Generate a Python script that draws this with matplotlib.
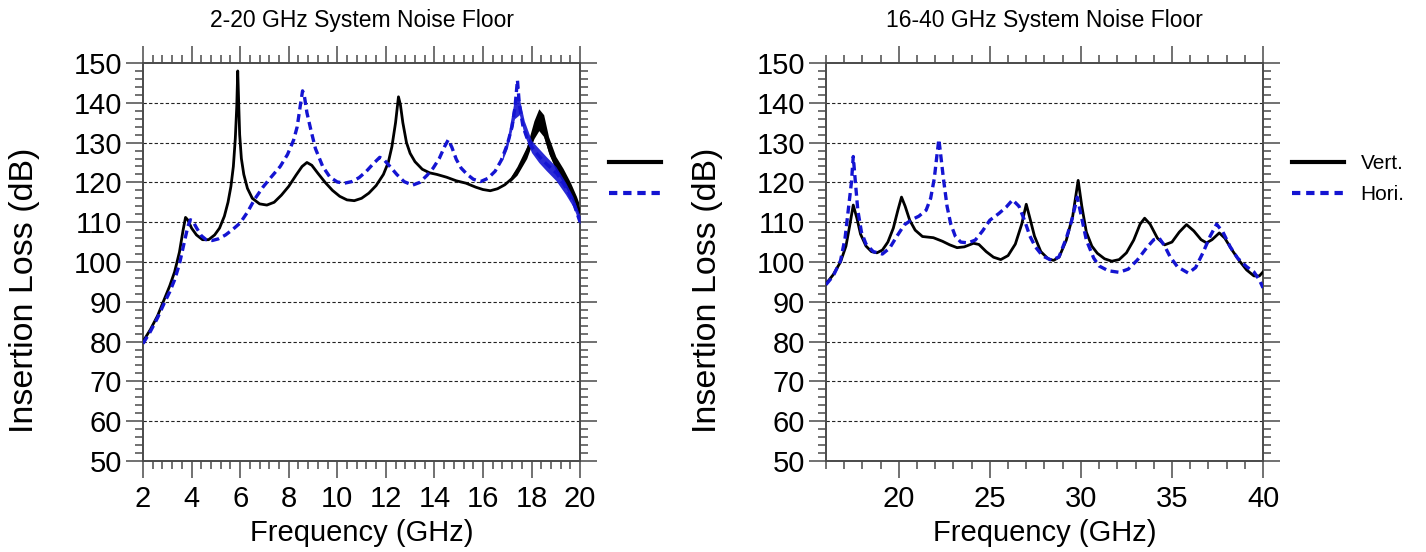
import numpy as np
import matplotlib.pyplot as plt
from matplotlib.ticker import MultipleLocator
from matplotlib.lines import Line2D

# ---- 2-20 GHz panel ----
lo_freq_v = [2.0, 2.3, 2.6, 2.9, 3.1, 3.3, 3.5, 3.65, 3.75, 3.85, 4.0, 4.2, 4.45, 4.7, 4.95,
             5.15, 5.35, 5.5, 5.62, 5.72, 5.8, 5.86, 5.9, 5.94, 5.98, 6.05, 6.15, 6.3, 6.5,
             6.8, 7.1, 7.4, 7.7, 8.0, 8.3, 8.55, 8.75, 8.95, 9.2, 9.5, 9.8, 10.1, 10.4, 10.7,
             11.0, 11.3, 11.6, 11.9, 12.1, 12.25, 12.4, 12.52, 12.6, 12.7, 12.85, 13.0, 13.2,
             13.5, 13.8, 14.1, 14.5, 14.9, 15.3, 15.7, 16.0, 16.3, 16.6, 16.9, 17.2, 17.5,
             17.75, 17.95, 18.15, 18.3, 18.45, 18.6, 18.8, 19.0, 19.2, 19.45, 19.7, 19.85, 20.0]
lo_vert = [80, 83, 86.5, 91, 94, 97.5, 102.5, 108, 111.2, 110.5, 108.5, 106.8, 105.6, 105.6, 106.8,
           108.5, 111.5, 115, 119, 124, 131, 139, 148, 140, 132, 126, 122, 118.5, 116,
           114.6, 114.3, 115, 116.8, 119, 121.8, 124, 125, 124.3, 122.3, 120, 118, 116.5, 115.6, 115.4,
           116, 117.3, 119.2, 122, 125, 129, 135, 141.5, 139.5, 135, 130, 127.3, 125.2,
           123.3, 122.4, 122, 121.3, 120.4, 119.8, 118.8, 118.2, 117.9, 118.4, 119.4, 121, 123.5,
           126.5, 130, 133.5, 135.5, 134.5, 131, 127, 124.5, 122.5, 119.5, 116.5, 114.8, 112.5]

lo_freq_h = [2.0, 2.3, 2.6, 2.9, 3.1, 3.3, 3.5, 3.7, 3.85, 3.95, 4.05, 4.2, 4.4, 4.6, 4.85,
             5.1, 5.4, 5.7, 6.0, 6.3, 6.6, 6.95, 7.3, 7.65, 7.95, 8.2, 8.35, 8.47, 8.57, 8.65,
             8.75, 8.9, 9.1, 9.4, 9.7, 10.0, 10.3, 10.6, 10.9, 11.2, 11.5, 11.75, 11.95, 12.2,
             12.45, 12.75, 13.1, 13.4, 13.7, 13.95, 14.2, 14.42, 14.57, 14.72, 14.9, 15.1, 15.35,
             15.6, 15.9, 16.2, 16.5, 16.75, 17.0, 17.2, 17.32, 17.42, 17.5, 17.65, 17.85, 18.0,
             18.25, 18.5, 18.8, 19.05, 19.3, 19.5, 19.75, 20.0]
lo_hori = [79.5, 82.5, 86, 90, 92.5, 95.5, 99.5, 105, 109, 110.6, 110.3, 108.6, 106.6, 105.6, 105.4,
           105.8, 106.8, 108.2, 109.8, 112.5, 115.8, 118.9, 121.5, 124, 127, 130.6, 134, 139, 143, 141.5,
           137.5, 133.5, 128.5, 124, 121.3, 120.1, 119.8, 120.2, 121.2, 122.8, 124.8, 126.3, 125.5, 123.8,
           122, 120.2, 119.3, 120, 121.8, 123.6, 126, 129, 130.7, 128.8, 125.8, 123.6, 122,
           120.8, 120.2, 121, 122.8, 125.5, 129.5, 134, 139, 145.7, 139.5, 134, 130.5, 129,
           127, 125.3, 123.6, 122.2, 119.8, 117.8, 114.5, 110]

# noisy band at the high end (lower / upper edge of the fuzz)
lo_band_v_f = [17.1, 17.4, 17.8, 18.1, 18.3, 18.5, 18.7, 19.0, 19.3, 19.6, 19.85, 20.0]
lo_band_v_lo = [120, 121.8, 126, 131, 133, 131.5, 127.5, 123, 120, 116.5, 113, 111]
lo_band_v_hi = [121, 124, 129, 135.5, 138.5, 137, 131.5, 126.5, 123.5, 120, 116.5, 114]
lo_band_h_f = [16.8, 17.0, 17.3, 17.5, 17.7, 18.0, 18.3, 18.6, 19.0, 19.4, 19.7, 20.0]
lo_band_h_lo = [125.5, 128.5, 136, 137, 132, 127.5, 125, 123, 120.5, 117, 114, 109.5]
lo_band_h_hi = [127, 131, 141, 141, 135.5, 130.5, 128.5, 126.5, 124, 120, 116.5, 111.5]

# ---- 16-40 GHz panel ----
hi_freq_v = [16.0, 16.4, 16.8, 17.1, 17.3, 17.5, 17.7, 17.9, 18.2, 18.5, 18.8, 19.1, 19.4, 19.7,
             19.95, 20.15, 20.35, 20.6, 20.9, 21.3, 21.9, 22.4, 22.8, 23.2, 23.6, 24.1, 24.4, 24.8,
             25.2, 25.6, 26.0, 26.4, 26.75, 27.0, 27.2, 27.45, 27.8, 28.2, 28.5, 28.8, 29.2, 29.55,
             29.85, 30.05, 30.3, 30.6, 30.9, 31.3, 31.7, 32.1, 32.5, 32.9, 33.25, 33.5, 33.8, 34.2,
             34.6, 35.0, 35.4, 35.8, 36.2, 36.6, 36.9, 37.2, 37.6, 37.9, 38.3, 38.7, 39.1, 39.5,
             39.8, 40.0]
hi_vert = [94.5, 96.8, 100, 104, 109, 114.3, 111, 107, 104, 102.6, 102.3, 103, 105, 108.5,
           113, 116.3, 114, 110.5, 108, 106.4, 106.1, 105.2, 104.3, 103.6, 103.8, 104.7, 104.4, 102.6,
           101.2, 100.6, 101.6, 104.5, 109.5, 114.5, 111, 106.5, 102.6, 100.8, 100.4, 101.2, 105.5, 111.5,
           120.5, 114, 107.5, 104, 102.2, 100.8, 100.2, 100.6, 102.3, 105.5, 109.5, 111, 109.5, 106,
           104.3, 105, 107.5, 109.4, 107.8, 105.6, 104.8, 105.6, 107.3, 106, 103, 100.3, 98, 96.5,
           96.5, 97.5]

hi_freq_h = [16.0, 16.4, 16.8, 17.05, 17.25, 17.4, 17.5, 17.6, 17.75, 17.95, 18.2, 18.6, 19.1, 19.5,
             19.9, 20.3, 20.7, 21.1, 21.5, 21.75, 21.95, 22.1, 22.2, 22.3, 22.45, 22.65, 22.85, 23.1,
             23.4, 23.8, 24.2, 24.6, 25.0, 25.5, 25.9, 26.25, 26.6, 26.9, 27.2, 27.5, 27.9, 28.4,
             28.8, 29.2, 29.5, 29.8, 30.0, 30.3, 30.7, 31.0, 31.5, 32.1, 32.6, 33.1, 33.6, 34.0,
             34.3, 34.6, 34.9, 35.3, 35.9, 36.3, 36.7, 37.1, 37.45, 37.8, 38.2, 38.6, 39.1, 39.5,
             39.8, 40.0]
hi_hori = [94.3, 96.5, 100.3, 106, 114, 120, 126.5, 121, 113, 107.5, 104.5, 102.6, 102, 103.5,
           106.5, 109.3, 110.6, 111.5, 113, 116, 121, 127, 130.8, 127, 121, 114, 109.6, 106.5,
           105, 104.8, 105.5, 107.8, 110.5, 112.2, 113.8, 115.6, 114, 110.5, 106.5, 103.8, 101.5, 100.4,
           101.3, 106, 110.5, 116.3, 112, 105.5, 101, 99, 97.8, 97.4, 98.2, 100.5, 103.5, 105.6,
           106, 104, 101.3, 98.8, 97.2, 98.6, 102.3, 106.5, 109.5, 107.5, 103.8, 101, 98.8, 97.5,
           95.5, 93.5]

VERT_COLOR = 'black'
HORI_COLOR = '#1414d2'
AX_COLOR = '#4a4a4a'

plt.rcParams['font.family'] = ['Liberation Sans', 'DejaVu Sans']

fig = plt.figure(figsize=(14.26, 5.52), dpi=100)
ax1 = fig.add_axes([0.1003, 0.1649, 0.3065, 0.721])
ax2 = fig.add_axes([0.5792, 0.1649, 0.3065, 0.721])


def style_axes(ax, xlim, xmajor, xminor, xticks):
    ax.set_xlim(*xlim)
    ax.set_ylim(50, 150)
    ax.xaxis.set_major_locator(MultipleLocator(xmajor))
    ax.xaxis.set_minor_locator(MultipleLocator(xminor))
    ax.set_xticks(xticks)
    ax.yaxis.set_major_locator(MultipleLocator(10))
    ax.yaxis.set_minor_locator(MultipleLocator(2))
    ax.tick_params(which='both', direction='out', top=True, right=True,
                   color=AX_COLOR, width=1.1)
    ax.tick_params(which='major', length=12.5, labelsize=21)
    ax.tick_params(which='minor', length=6)
    ax.tick_params(axis='x', which='major', pad=5)
    ax.tick_params(axis='y', which='major', pad=2.5)
    for s in ax.spines.values():
        s.set_color(AX_COLOR)
        s.set_linewidth(1.4)
    for y in range(60, 150, 10):
        ax.axhline(y, color='#222222', lw=0.8, ls=(0, (3, 2)), zorder=1)
    ax.text(0.5, -0.145, 'Frequency (GHz)', transform=ax.transAxes,
            ha='center', va='top', fontsize=21)
    ax.text(-0.272, 0.43, 'Insertion Loss (dB)', transform=ax.transAxes,
            ha='center', va='center', rotation=90, fontsize=24.5)


style_axes(ax1, (2, 20), 2, 0.4, np.arange(2, 21, 2))
style_axes(ax2, (16, 40), 5, 1, [20, 25, 30, 35, 40])

dash = (0, (2.4, 1.4))

ax1.fill_between(lo_band_v_f, lo_band_v_lo, lo_band_v_hi, color=VERT_COLOR, lw=0, zorder=2)
ax1.plot(lo_freq_v, lo_vert, color=VERT_COLOR, lw=2.0, zorder=3)
ax1.fill_between(lo_band_h_f, lo_band_h_lo, lo_band_h_hi, color=HORI_COLOR, lw=0, alpha=0.9, zorder=4)
ax1.plot(lo_freq_h, lo_hori, color=HORI_COLOR, lw=2.4, ls=dash, zorder=5)

ax2.plot(hi_freq_v, hi_vert, color=VERT_COLOR, lw=2.0, zorder=3)
ax2.plot(hi_freq_h, hi_hori, color=HORI_COLOR, lw=2.4, ls=dash, zorder=4)

ax1.text(0.5, 1.09, '2-20 GHz System Noise Floor', transform=ax1.transAxes,
         ha='center', va='baseline', fontsize=16.5)
ax2.text(0.5, 1.09, '16-40 GHz System Noise Floor', transform=ax2.transAxes,
         ha='center', va='baseline', fontsize=16.5)

handles = [Line2D([], [], color=VERT_COLOR, lw=3.0),
           Line2D([], [], color=HORI_COLOR, lw=3.0, ls=(0, (2.0, 1.4)))]
leg_kw = dict(loc='center left', frameon=False, fontsize=15, handlelength=2.5,
              handletextpad=0.8, labelspacing=0.6, borderpad=0, borderaxespad=0)
ax1.legend(handles, ['', ''], bbox_to_anchor=(1.066, 0.708), **leg_kw)
ax2.legend(handles, ['Vert.', 'Hori.'], bbox_to_anchor=(1.066, 0.708), **leg_kw)

fig.savefig('out.png', dpi=100)
